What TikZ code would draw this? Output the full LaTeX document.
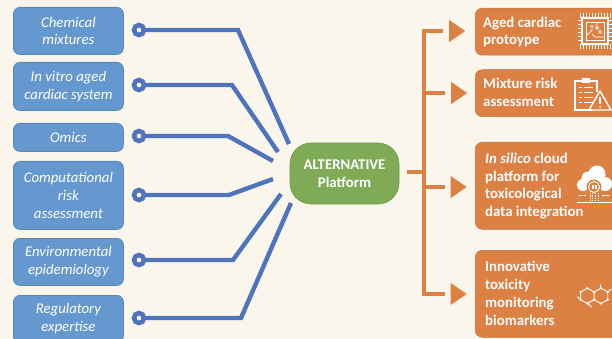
\documentclass[tikz,border=0pt]{standalone}
\usepackage{fontspec}
\setmainfont{Carlito}
\usetikzlibrary{shapes.geometric}
\definecolor{bgc}{HTML}{FBF6EC}
\definecolor{bluef}{HTML}{6698D0}
\definecolor{blued}{HTML}{5A86B6}
\definecolor{bluel}{HTML}{4F74BE}
\definecolor{greenf}{HTML}{7FAB56}
\definecolor{greend}{HTML}{6F9A4A}
\definecolor{orangef}{HTML}{DC8044}
\definecolor{oranged}{HTML}{C8733C}
\tikzset{
 inbox/.style={draw=blued,fill=bluef,line width=0.8pt,rounded corners=6.5pt,minimum width=110pt,text=white,align=center,font=\fontsize{14.8}{17.8}\selectfont\itshape,inner sep=0pt,anchor=north west},
 outbox/.style={draw=oranged,fill=orangef,line width=0.5pt,rounded corners=7pt,minimum width=150pt,anchor=north west,inner sep=0pt},
 outlabel/.style={text=white,align=left,anchor=west,font=\fontsize{14.8}{17.8}\selectfont\bfseries,inner sep=0pt},
 dotend/.style={circle,draw=bluel,fill=bgc,line width=4.6pt,minimum size=10pt,inner sep=0pt},
 bluelink/.style={draw=bluel,line width=4.4pt,line join=miter},
 orlink/.style={draw=orangef,line width=4.6pt},
 arrowtri/.style={isosceles triangle,isosceles triangle apex angle=72,isosceles triangle stretches,fill=orangef,draw=none,minimum width=22pt,minimum height=16pt,inner sep=0pt,anchor=west},
 icon/.style={draw=white,line width=0.9pt,fill=none}
}
\begin{document}
\begin{tikzpicture}[x=1pt,y=-1pt]
\clip (0,0) rectangle (612,339);
\fill[bgc] (0,0) rectangle (612,339);
% input boxes
\node[inbox,minimum height=47pt] (b1) at (13,7) {Chemical\\mixtures};
\node[inbox,minimum height=48pt] (b2) at (13,62) {In vitro aged\\cardiac system};
\node[inbox,minimum height=28pt] (b3) at (13,123) {Omics};
\node[inbox,minimum height=68pt] (b4) at (13,161) {Computational\\risk\\assessment};
\node[inbox,minimum height=47pt] (b5) at (13,238) {Environmental\\epidemiology};
\node[inbox,minimum height=47pt] (b6) at (13,295) {Regulatory\\expertise};
% centre
\node[draw=greend,fill=greenf,line width=0.6pt,rounded corners=21pt,minimum width=109pt,minimum height=61pt,text=white,align=center,inner sep=0pt,font=\fontsize{14.8}{17.8}\selectfont\bfseries] (hub) at (344.5,173.5) {ALTERNATIVE\\Platform};
% end dots
\coordinate (c1) at (139,30);
\coordinate (c2) at (139,85);
\coordinate (c3) at (139,136);
\coordinate (c4) at (139,195);
\coordinate (c5) at (139,260);
\coordinate (c6) at (139,318);
\coordinate (e1) at (289,144);
\coordinate (e2) at (278,152);
\coordinate (e3) at (273,161);
\coordinate (e4) at (273,179);
\coordinate (e5) at (281,194);
\coordinate (e6) at (291,203);
\draw[bluelink] (c1) -- (238,30) -- (e1);
\draw[bluelink] (c2) -- (232,85) -- (e2);
\draw[bluelink] (c3) -- (228,136) -- (e3);
\draw[bluelink] (c4) -- (229,195) -- (e4);
\draw[bluelink] (c5) -- (233,260) -- (e5);
\draw[bluelink] (c6) -- (241,318) -- (e6);
\node[dotend] (d1) at (c1) {};
\node[dotend] (d2) at (c2) {};
\node[dotend] (d3) at (c3) {};
\node[dotend] (d4) at (c4) {};
\node[dotend] (d5) at (c5) {};
\node[dotend] (d6) at (c6) {};
% output boxes
\node[outbox,minimum height=47pt] (o1) at (475,8) {};
\node[outbox,minimum height=47pt] (o2) at (475,69.5) {};
\node[outbox,minimum height=87pt] (o3) at (475,142) {};
\node[outbox,minimum height=87pt] (o4) at (475,250) {};
\node[outlabel] (t1) at (483,32) {Aged cardiac\\protoype};
\node[outlabel] (t2) at (483,92.5) {Mixture risk\\assessment};
\node[outlabel] (t3) at (485,186) {\textit{In silico} cloud\\platform for\\toxicological\\data integration};
\node[outlabel] (t4) at (485,293.5) {Innovative\\toxicity\\monitoring\\biomarkers};
% orange tree
\coordinate (s0) at (407,172);
\coordinate (tr) at (424,172);
\coordinate (tt) at (424,31);
\coordinate (tb) at (424,294);
\node[arrowtri] (a1) at (449,31) {};
\node[arrowtri] (a2) at (451,93) {};
\node[arrowtri] (a3) at (450.5,187) {};
\node[arrowtri] (a4) at (450.5,294) {};
\draw[orlink] (s0) -- (tr);
\draw[orlink,line join=miter] (443,31) -- (tt) -- (tb) -- (445,294);
\draw[orlink] (tr |- a2) -- (445,93);
\draw[orlink] (tr |- a3) -- (445,187);
% chip icon
\begin{scope}[shift={(595,31)}]
\draw[icon,line width=1.8pt] (-13,-13) rectangle (13,13);
\draw[icon,line width=0.7pt] (-9,-9) rectangle (9,9);
\foreach \k in {-15,-12,-9,-6,-3,0,3,6,9,12,15}{
 \draw[white,line width=1pt] (\k,-18) -- (\k,-13);
 \draw[white,line width=1pt] (\k,13) -- (\k,18);
}
\foreach \k in {-10,-6,-2,2,6,10}{
 \draw[white,line width=1pt] (-17,\k) -- (-13,\k);
 \draw[white,line width=1pt] (13,\k) -- (17,\k);
}
\draw[white,line width=0.7pt] (-8,4) -- (-3,-1) -- (-3,-5) (8,6) -- (0,6) -- (-3,3) (2,-8) -- (2,-3) (2,-3) circle (1.5pt) (5,1) circle (1.5pt) (-5,-5) -- (-1,-5);
\end{scope}
% clipboard icon
\begin{scope}[shift={(590,94)}]
\draw[icon,line width=1.2pt] (2,16) -- (-15,16) -- (-15,-13) -- (7,-13) -- (7,-2);
\fill[white] (-8,-16) rectangle (0,-11);
\foreach \k in {-7,-2,3,8}{
 \draw[white,line width=0.8pt] (-11,\k) -- (-8,\k);
 \draw[white,line width=0.8pt] (-6,\k) -- (3,\k);
}
\draw[icon,line width=1.4pt,line join=round] (-1,16) -- (10,-3) -- (21,16) -- cycle;
\draw[white,line width=1.4pt] (10,3) -- (10,10);
\fill[white] (10,13) circle (1pt);
\end{scope}
% cloud icon
\begin{scope}[shift={(594,187)}]
\fill[white] (-11,-2) circle (6pt) (-6,-9) circle (6.5pt) (3,-13) circle (8.5pt) (11,-3) circle (7pt) (-11,-6) rectangle (12,2);
\fill[orangef] (0,0) circle (7.5pt);
\draw[white,line width=0.9pt] (0,0) circle (5.5pt);
\fill[white] (-2.5,-2.5) rectangle (2.5,2);
\fill[orangef] (-.4,-2.5) rectangle (.4,2);
\draw[white,line width=0.8pt] (-15,8) -- (-8,8) (8,8) -- (15,8);
\foreach \k in {-4,-1.3,1.3,4}{\draw[white,line width=0.7pt,densely dotted] (\k,6) -- (\k,14);}
\draw[white,line width=0.6pt] (-17,15) -- (18,15);
\end{scope}
% molecule icon
\begin{scope}[xshift=595pt,yshift=-295pt,scale=0.85]
\draw[white,line width=0.9pt]
 (-9,-8) -- (-1,-3.5) -- (-1,5.5) -- (-9,10) -- (-17,5.5) -- (-17,-3.5) -- cycle
 (-1,-3.5) -- (7,-8) -- (15,-3.5) -- (15,5.5) -- (7,10) -- (-1,5.5)
 (-17,5.5) -- (-21,2) (-9,10) -- (-4,14) (7,-8) -- (6,-13) (15,-3.5) -- (19,-7);
\foreach \p in {(-9,-8),(-1,-3.5),(-1,5.5),(-9,10),(-17,5.5),(-17,-3.5),(7,-8),(15,-3.5),(15,5.5),(7,10)}{\fill[white] \p circle (1.5pt);}
\end{scope}
\end{tikzpicture}
\end{document}
